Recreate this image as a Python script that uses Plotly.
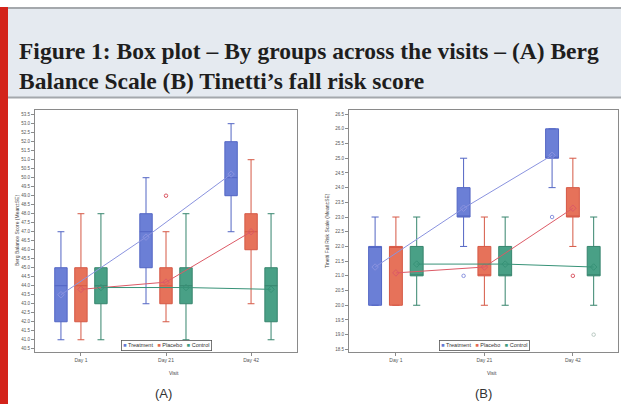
import plotly.graph_objects as go

W, H = 621, 404

visits = ["Day 1", "Day 21", "Day 42"]
groups = ["Treatment", "Placebo", "Control"]

# (A) Berg Balance Scale - one row per group, one value per visit
berg_low = [[41.0, 43.0, 47.0], [41.0, 42.0, 43.0], [41.0, 41.0, 41.0]]
berg_q1 = [[42.0, 45.0, 49.0], [42.0, 43.0, 46.0], [43.0, 43.0, 42.0]]
berg_median = [[44.0, 47.0, 50.0], [44.0, 44.0, 47.0], [44.0, 44.0, 44.0]]
berg_q3 = [[45.0, 48.0, 52.0], [45.0, 45.0, 48.0], [45.0, 45.0, 45.0]]
berg_high = [[47.0, 50.0, 53.0], [48.0, 47.0, 51.0], [48.0, 48.0, 48.0]]
berg_mean = [[43.5, 46.7, 50.2], [43.8, 44.2, 47.0], [43.9, 43.9, 43.8]]
berg_out_group = ["Placebo"]
berg_out_visit = ["Day 21"]
berg_out_value = [49.0]
berg_ticks = [40.5 + 0.5 * i for i in range(27)]

# (B) Tinetti fall risk score
tin_low = [[20.0, 22.0, 24.0], [20.0, 20.0, 22.0], [20.0, 20.0, 20.0]]
tin_q1 = [[20.0, 23.0, 25.0], [20.0, 21.0, 23.0], [21.0, 21.0, 21.0]]
tin_median = [[22.0, 23.0, 25.0], [22.0, 21.0, 23.0], [21.0, 21.0, 21.0]]
tin_q3 = [[22.0, 24.0, 26.0], [22.0, 22.0, 24.0], [22.0, 22.0, 22.0]]
tin_high = [[23.0, 25.0, 26.0], [23.0, 23.0, 25.0], [23.0, 23.0, 23.0]]
tin_mean = [[21.3, 23.3, 25.1], [21.1, 21.3, 23.3], [21.4, 21.4, 21.3]]
tin_out_group = ["Treatment", "Treatment", "Placebo", "Control"]
tin_out_visit = ["Day 21", "Day 42", "Day 42", "Day 42"]
tin_out_value = [21.0, 23.0, 21.0, 19.0]
tin_ticks = [18.5 + 0.5 * i for i in range(17)]

fill_colors = ["#6479d4", "#e56b52", "#409b80"]
line_colors = ["#4a5ec2", "#d4503c", "#2c7f66"]
mean_colors = ["#8a93df", "#dc5a66", "#379277"]
outlier_colors = ["#8a93df", "#dc5a66", "#b9c9c2"]

offsets = [-0.235, 0.0, 0.235]
BOX_W = 0.146


def px_x(v):
    return v / W


def px_y(v):
    return 1 - v / H


panels = [
    dict(xa="x", ya="y", xdom=(35, 297), xrng=[-0.54, 2.54], yrng=[40.32, 53.76],
         low=berg_low, q1=berg_q1, med=berg_median, q3=berg_q3, high=berg_high,
         mean=berg_mean, og=berg_out_group, ov=berg_out_visit, oval=berg_out_value,
         ticks=berg_ticks, ytitle="Berg Balance Score (Mean±SE)", ytx=17,
         tag="(A)", tagx=163),
    dict(xa="x2", ya="y2", xdom=(349, 618), xrng=[-0.53, 2.51], yrng=[18.41, 26.64],
         low=tin_low, q1=tin_q1, med=tin_median, q3=tin_q3, high=tin_high,
         mean=tin_mean, og=tin_out_group, ov=tin_out_visit, oval=tin_out_value,
         ticks=tin_ticks, ytitle="Tinetti Fall Risk Scale (Mean±SE)", ytx=327,
         tag="(B)", tagx=483),
]

Y_TOP, Y_BOT = 110, 352

fig = go.Figure()
annotations = []
shapes = []

for p in panels:
    for gi, g in enumerate(groups):
        pos = [vi + offsets[gi] for vi in range(len(visits))]
        fig.add_trace(go.Box(
            x=pos, q1=p["q1"][gi], median=p["med"][gi], q3=p["q3"][gi],
            lowerfence=p["low"][gi], upperfence=p["high"][gi],
            width=BOX_W, whiskerwidth=0.55, boxpoints=False,
            fillcolor=fill_colors[gi], opacity=0.95,
            line=dict(color=line_colors[gi], width=1),
            name=g, showlegend=False, xaxis=p["xa"], yaxis=p["ya"],
            hoverinfo="skip",
        ))
    for gi, g in enumerate(groups):
        pos = [vi + offsets[gi] for vi in range(len(visits))]
        fig.add_trace(go.Scatter(
            x=pos, y=p["mean"][gi], mode="lines+markers",
            line=dict(color=mean_colors[gi], width=1),
            marker=dict(symbol="diamond-open", size=5, color=mean_colors[gi],
                        line=dict(width=1)),
            showlegend=False, xaxis=p["xa"], yaxis=p["ya"], hoverinfo="skip",
        ))
    for g, v, val in zip(p["og"], p["ov"], p["oval"]):
        gi = groups.index(g)
        fig.add_trace(go.Scatter(
            x=[visits.index(v) + offsets[gi]], y=[val], mode="markers",
            marker=dict(symbol="circle-open", size=3.5, color=outlier_colors[gi],
                        line=dict(width=1)),
            showlegend=False, xaxis=p["xa"], yaxis=p["ya"], hoverinfo="skip",
        ))

    x0, x1 = p["xdom"]
    # legend box inside the plot area, near the bottom
    legend_text = "   ".join(
        f"<span style='color:{fill_colors[gi]}'>■</span> {g}" for gi, g in enumerate(groups)
    )
    annotations.append(dict(
        text=legend_text, xref="paper", yref="paper",
        x=px_x((x0 + x1) / 2 + 1), y=px_y(350.5), xanchor="center", yanchor="bottom",
        showarrow=False, font=dict(family="Liberation Sans", size=5.5, color="#333"),
        bordercolor="#555", borderwidth=0.8, borderpad=1.5, bgcolor="white",
    ))
    annotations.append(dict(
        text=p["ytitle"], xref="paper", yref="paper", textangle=-90,
        x=px_x(p["ytx"]), y=px_y((Y_TOP + Y_BOT) / 2), xanchor="center", yanchor="middle",
        showarrow=False, font=dict(family="Liberation Sans", size=5, color="#444"),
    ))
    annotations.append(dict(
        text="Visit", xref="paper", yref="paper",
        x=px_x((x0 + x1) / 2 + 8), y=px_y(373), xanchor="center", yanchor="middle",
        showarrow=False, font=dict(family="Liberation Sans", size=5, color="#444"),
    ))
    annotations.append(dict(
        text=p["tag"], xref="paper", yref="paper",
        x=px_x(p["tagx"]), y=px_y(393), xanchor="center", yanchor="middle",
        showarrow=False, font=dict(family="Liberation Sans", size=13, color="#333"),
    ))

axis_common = dict(showgrid=False, zeroline=False, showline=True, mirror=True,
                   linecolor="#8a8a8a", linewidth=1, ticks="outside", ticklen=3,
                   tickcolor="#8a8a8a",
                   tickfont=dict(family="Liberation Sans", size=4.5, color="#555"))

layout_axes = {}
for i, p in enumerate(panels):
    sfx = "" if i == 0 else "2"
    x0, x1 = p["xdom"]
    layout_axes["xaxis" + sfx] = dict(
        axis_common, domain=[px_x(x0), px_x(x1)], range=p["xrng"],
        tickvals=list(range(len(visits))), ticktext=visits, anchor="y" + sfx,
        tickfont=dict(family="Liberation Sans", size=5, color="#555"),
    )
    layout_axes["yaxis" + sfx] = dict(
        axis_common, domain=[px_y(Y_BOT), px_y(Y_TOP)], range=p["yrng"],
        tickvals=p["ticks"], ticktext=[f"{t:.1f}" for t in p["ticks"]],
        anchor="x" + sfx,
    )

# page decoration: red side bar and the caption band
shapes += [
    dict(type="rect", xref="paper", yref="paper", x0=px_x(8), x1=1,
         y0=px_y(97.5), y1=px_y(8), fillcolor="#e5eaf0", line=dict(width=0), layer="below"),
    dict(type="line", xref="paper", yref="paper", x0=px_x(8), x1=1,
         y0=px_y(8), y1=px_y(8), line=dict(color="#a4a8ac", width=2)),
    dict(type="line", xref="paper", yref="paper", x0=px_x(8), x1=1,
         y0=px_y(97.5), y1=px_y(97.5), line=dict(color="#a4a8ac", width=2)),
    dict(type="rect", xref="paper", yref="paper", x0=0, x1=px_x(8),
         y0=0, y1=px_y(7), fillcolor="#d3231a", line=dict(width=0)),
]

title_font = dict(family="Liberation Serif", size=23.5, color="#1e1e1e")
annotations += [
    dict(text="<b>Figure 1: Box plot – By groups across the visits – (A) Berg</b>",
         xref="paper", yref="paper", x=px_x(17), y=px_y(51), xanchor="left",
         yanchor="middle", showarrow=False, font=title_font),
    dict(text="<b>Balance Scale (B) Tinetti’s fall risk score</b>",
         xref="paper", yref="paper", x=px_x(17), y=px_y(81), xanchor="left",
         yanchor="middle", showarrow=False, font=title_font),
]

fig.update_layout(
    width=W, height=H, margin=dict(l=0, r=0, t=0, b=0),
    paper_bgcolor="white", plot_bgcolor="white",
    boxmode="overlay", showlegend=False,
    annotations=annotations, shapes=shapes, **layout_axes,
)

fig.write_html("out.html")
